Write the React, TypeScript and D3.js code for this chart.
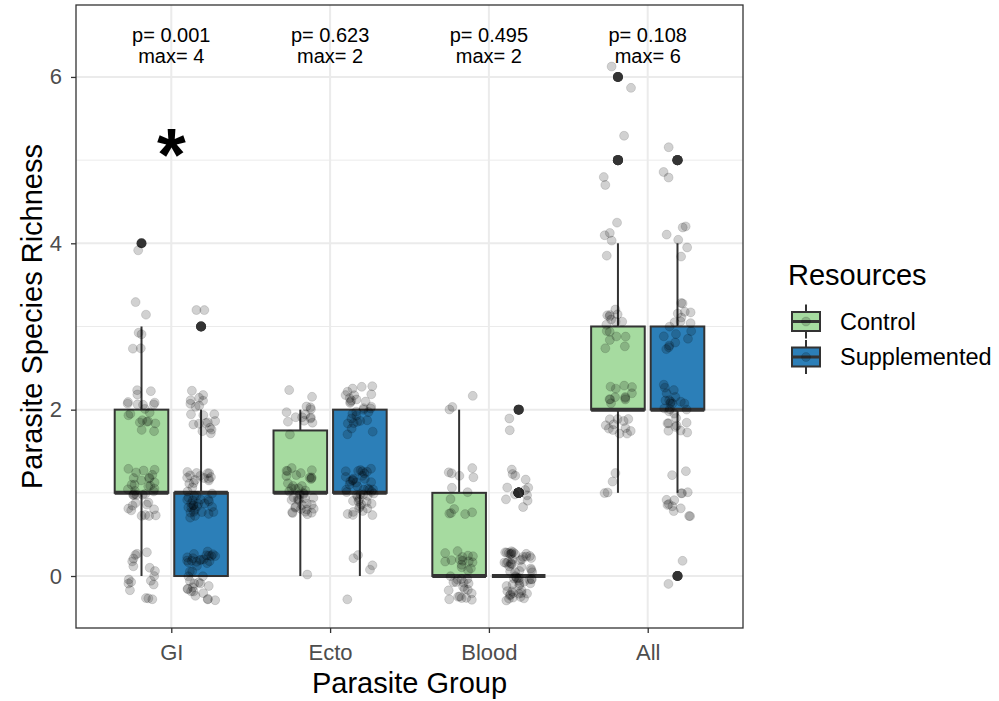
import React, { useEffect, useRef } from 'react';
import * as d3 from 'd3';

const groups = ['GI', 'Ecto', 'Blood', 'All'];
const resources = ['Control', 'Supplemented'];
const richness = [0, 1, 2, 3, 4, 5, 6];
// number of hosts at each richness value (0..6), one row per parasite group
const controlCounts = [
  [18, 35, 20, 6, 1, 0, 0],
  [1, 42, 15, 0, 0, 0, 0],
  [34, 13, 3, 0, 0, 0, 0],
  [0, 4, 24, 16, 5, 3, 2],
];
const supplementedCounts = [
  [38, 42, 20, 2, 0, 0, 0],
  [5, 45, 30, 0, 0, 0, 0],
  [60, 12, 2, 0, 0, 0, 0],
  [2, 14, 26, 18, 6, 3, 0],
];
const pValues = ['0.001', '0.623', '0.495', '0.108'];
const maxValues = [4, 2, 2, 6];
const significant = [true, false, false, false];
const yTicks = [0, 2, 4, 6];
const yMinor = [1, 3, 5];

const fills = { Control: '#a6dba0', Supplemented: '#2c7fb8' };
const font = '"Liberation Sans", Arial, Helvetica, sans-serif';

const App = () => {
  const svgRef = useRef(null);

  useEffect(() => {
    const svg = d3.select(svgRef.current);
    svg.selectAll('*').remove();

    const left = 76, right = 743, top = 5, bottom = 628;

    const x = d3.scalePoint().domain(groups).range([left, right]).padding(0.6);
    const step = x.step();
    const dodge = d3.scaleBand().domain(resources).range([-step * 0.375, step * 0.375]);
    const boxW = dodge.bandwidth() * 0.9;
    const y = d3.scaleLinear().domain([-0.625, 6.865]).range([bottom, top]);

    // panel background + grid
    svg.append('rect').attr('x', left).attr('y', top).attr('width', right - left).attr('height', bottom - top).attr('fill', '#fff');
    svg.selectAll('.minor').data(yMinor).enter().append('line')
      .attr('x1', left).attr('x2', right).attr('y1', d => y(d)).attr('y2', d => y(d))
      .attr('stroke', '#ebebeb').attr('stroke-width', 1);
    svg.selectAll('.major').data(yTicks).enter().append('line')
      .attr('x1', left).attr('x2', right).attr('y1', d => y(d)).attr('y2', d => y(d))
      .attr('stroke', '#ebebeb').attr('stroke-width', 2);
    svg.selectAll('.vmajor').data(groups).enter().append('line')
      .attr('x1', d => x(d)).attr('x2', d => x(d)).attr('y1', top).attr('y2', bottom)
      .attr('stroke', '#ebebeb').attr('stroke-width', 2);

    // build observations
    const rand = d3.randomUniform.source(d3.randomLcg(0.4242))(-1, 1);
    const boxes = [];
    const points = [];
    groups.forEach((g, gi) => {
      resources.forEach((r, ri) => {
        const counts = (ri === 0 ? controlCounts : supplementedCounts)[gi];
        const vals = richness.flatMap((v, k) => d3.range(counts[k]).map(() => v));
        const cx = x(g) + dodge(r) + dodge.bandwidth() / 2;
        const q1 = d3.quantile(vals, 0.25);
        const med = d3.quantile(vals, 0.5);
        const q3 = d3.quantile(vals, 0.75);
        const iqr = q3 - q1;
        const inside = vals.filter(v => v >= q1 - 1.5 * iqr && v <= q3 + 1.5 * iqr);
        boxes.push({
          r, cx, q1, med, q3,
          lo: d3.min(inside), hi: d3.max(inside),
          out: vals.filter(v => v < q1 - 1.5 * iqr || v > q3 + 1.5 * iqr),
        });
        vals.forEach(v => {
          points.push({ px: cx + rand() * step * 0.09, py: v + rand() * 0.3 });
        });
      });
    });

    // boxplots
    const bx = svg.append('g');
    boxes.forEach(b => {
      bx.append('line').attr('x1', b.cx).attr('x2', b.cx).attr('y1', y(b.q3)).attr('y2', y(b.hi))
        .attr('stroke', '#333').attr('stroke-width', 2);
      bx.append('line').attr('x1', b.cx).attr('x2', b.cx).attr('y1', y(b.q1)).attr('y2', y(b.lo))
        .attr('stroke', '#333').attr('stroke-width', 2);
      bx.append('rect').attr('x', b.cx - boxW / 2).attr('width', boxW)
        .attr('y', y(b.q3)).attr('height', Math.max(0, y(b.q1) - y(b.q3)))
        .attr('fill', fills[b.r]).attr('stroke', '#333').attr('stroke-width', 2);
      bx.append('line').attr('x1', b.cx - boxW / 2).attr('x2', b.cx + boxW / 2)
        .attr('y1', y(b.med)).attr('y2', y(b.med))
        .attr('stroke', '#333').attr('stroke-width', 4);
      b.out.forEach(v => {
        bx.append('circle').attr('cx', b.cx).attr('cy', y(v)).attr('r', 5).attr('fill', '#333');
      });
    });

    // jittered points
    svg.append('g').selectAll('circle').data(points).enter().append('circle')
      .attr('cx', d => d.px).attr('cy', d => y(d.py)).attr('r', 4.5)
      .attr('fill', 'rgba(0,0,0,0.18)').attr('stroke', 'rgba(0,0,0,0.12)').attr('stroke-width', 1);

    // annotations
    const ann = svg.append('g').style('font-family', font).style('font-size', '20px').attr('text-anchor', 'middle');
    groups.forEach((g, i) => {
      ann.append('text').attr('x', x(g)).attr('y', y(6.37) - 4).text(`p= ${pValues[i]}`);
      ann.append('text').attr('x', x(g)).attr('y', y(6.37) + 17).text(`max= ${maxValues[i]}`);
      if (significant[i]) {
        svg.append('text').attr('x', x(g)).attr('y', y(5.2) + 37).attr('text-anchor', 'middle')
          .style('font-family', font).style('font-size', '74px').style('font-weight', 'bold').text('*');
      }
    });

    // panel border
    svg.append('rect').attr('x', left).attr('y', top).attr('width', right - left).attr('height', bottom - top)
      .attr('fill', 'none').attr('stroke', '#333').attr('stroke-width', 1.3);

    // axes
    const ya = svg.append('g').attr('transform', `translate(${left},0)`)
      .call(d3.axisLeft(y).tickValues(yTicks).tickSize(5).tickPadding(9));
    ya.select('.domain').remove();
    ya.selectAll('line').attr('stroke', '#333').attr('stroke-width', 1.3);
    ya.selectAll('text').style('font-family', font).style('font-size', '22px').attr('fill', '#4d4d4d');

    const xa = svg.append('g').attr('transform', `translate(0,${bottom})`)
      .call(d3.axisBottom(x).tickSize(5).tickPadding(11));
    xa.select('.domain').remove();
    xa.selectAll('line').attr('stroke', '#333').attr('stroke-width', 1.3);
    xa.selectAll('text').style('font-family', font).style('font-size', '22px').attr('fill', '#4d4d4d');

    // titles
    svg.append('text').attr('x', (left + right) / 2).attr('y', 693).attr('text-anchor', 'middle')
      .style('font-family', font).style('font-size', '29px').text('Parasite Group');
    svg.append('text').attr('transform', `translate(42,${(top + bottom) / 2}) rotate(-90)`)
      .attr('text-anchor', 'middle').style('font-family', font).style('font-size', '29px')
      .text('Parasite Species Richness');

    // legend
    const lg = svg.append('g');
    lg.append('text').attr('x', 788).attr('y', 285).style('font-family', font).style('font-size', '29px').text('Resources');
    resources.forEach((r, i) => {
      const cy = 321.5 + i * 35.5;
      const kx = 806;
      lg.append('line').attr('x1', kx).attr('x2', kx).attr('y1', cy - 17).attr('y2', cy + 17)
        .attr('stroke', '#333').attr('stroke-width', 2);
      lg.append('rect').attr('x', kx - 14).attr('y', cy - 9.5).attr('width', 28).attr('height', 19)
        .attr('fill', fills[r]).attr('stroke', '#333').attr('stroke-width', 2);
      lg.append('line').attr('x1', kx - 14).attr('x2', kx + 14).attr('y1', cy).attr('y2', cy)
        .attr('stroke', '#333').attr('stroke-width', 3);
      lg.append('circle').attr('cx', kx).attr('cy', cy).attr('r', 4.5)
        .attr('fill', 'rgba(0,0,0,0.18)').attr('stroke', 'rgba(0,0,0,0.12)');
      lg.append('text').attr('x', 840).attr('y', cy + 8).style('font-family', font).style('font-size', '23.5px').text(r);
    });
  }, []);

  return (
    <svg
      ref={svgRef}
      width={999}
      height={701}
      style={{ position: 'absolute', left: 0, top: 0, background: '#fff' }}
    />
  );
};

export default App;
